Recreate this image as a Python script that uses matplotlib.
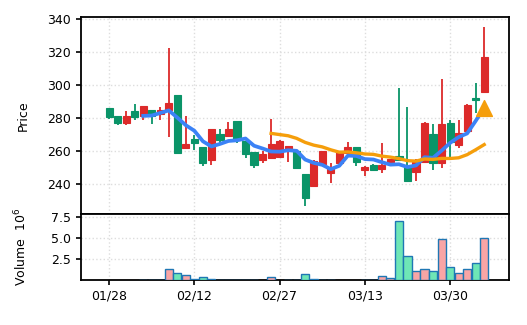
import numpy as np
import pandas as pd
import matplotlib
matplotlib.use('Agg')
import matplotlib.pyplot as plt

# Daily OHLC (price), one entry per trading day
opens = [285.8, 281.0, 277.1, 284.2, 281.0, 284.7, 282.4, 284.6, 293.9, 262.0,
         267.5, 262.1, 254.3, 270.0, 269.2, 277.9, 266.3, 259.5, 254.3, 255.4,
         256.2, 260.5, 260.0, 245.7, 238.4, 252.2, 246.5, 252.9, 259.0, 262.2,
         248.4, 251.5, 249.2, 253.0, 256.9, 249.9, 247.3, 253.0, 270.4, 252.4,
         276.7, 263.5, 272.0, 292.3, 295.9]
highs = [286.0, 281.0, 284.2, 288.4, 287.5, 284.7, 286.6, 322.6, 294.0, 281.2,
         269.6, 262.1, 273.5, 273.3, 277.5, 278.0, 266.3, 259.5, 260.0, 279.3,
         266.6, 263.0, 260.0, 245.7, 254.5, 260.0, 252.4, 260.0, 265.3, 262.2,
         250.5, 252.0, 264.8, 255.0, 298.2, 286.5, 255.2, 277.5, 276.3, 303.6,
         278.7, 278.7, 288.4, 301.4, 335.4]
lows = [279.5, 275.9, 275.9, 278.7, 278.7, 276.6, 279.0, 268.6, 258.8, 262.0,
        260.5, 250.8, 251.5, 264.6, 268.2, 264.9, 255.7, 249.8, 252.9, 255.4,
        256.0, 253.5, 249.4, 226.6, 238.4, 252.2, 240.2, 252.5, 259.0, 251.0,
        244.9, 248.0, 246.7, 253.0, 254.3, 241.8, 241.8, 252.8, 248.3, 249.7,
        256.4, 262.0, 271.5, 282.8, 295.0]
closes = [280.4, 277.1, 281.0, 280.7, 287.2, 281.4, 284.8, 288.9, 258.8, 264.0,
          264.6, 252.8, 273.2, 266.4, 273.1, 266.6, 258.3, 251.2, 258.0, 264.0,
          266.0, 262.7, 249.4, 231.4, 254.0, 260.0, 249.5, 259.7, 262.2, 253.3,
          250.3, 248.2, 251.5, 254.8, 254.5, 241.8, 253.0, 276.7, 252.8, 276.3,
          265.5, 270.6, 287.8, 290.9, 316.8]
# volume in millions (nan = no bar)
volumes = [np.nan, np.nan, np.nan, np.nan, 0.03, 0.03, 0.03, 1.32, 0.89, 0.61,
           0.15, 0.41, 0.12, 0.03, 0.03, 0.03, 0.03, 0.03, np.nan, 0.38,
           np.nan, 0.05, 0.05, 0.77, 0.1, 0.03, 0.03, np.nan, np.nan, np.nan,
           0.03, 0.05, 0.5, 0.26, 7.0, 2.86, 1.09, 1.32, 1.09, 4.87,
           1.56, 0.89, 1.32, 2.03, 4.99]

tick_pos = [0, 10, 20, 30, 40]
tick_labels = ['01/28', '02/12', '02/27', '03/13', '03/30']
signal_idx = [44]  # orange triangle marker

# Colours (red = up, green = down)
up_col, down_col = '#dc2a2a', '#0a9468'
vol_up, vol_down = '#f9a5a5', '#6ee6b6'
ma5_col, ma20_col = '#3b82f6', '#f59e0b'

x = np.arange(len(closes))
o = np.array(opens)
c = np.array(closes)
up = c >= o
cols = np.where(up, up_col, down_col)

ma5 = pd.Series(closes).rolling(5).mean()
ma20 = pd.Series(closes).rolling(20).mean()

fig = plt.figure(figsize=(5.27, 3.25), dpi=100)
ax = fig.add_axes([0.1537, 0.3415, 0.812, 0.6062])
axv = fig.add_axes([0.1537, 0.1385, 0.812, 0.2030], sharex=ax)

# Candles
ax.vlines(x, lows, highs, colors=cols, linewidth=1.3, zorder=2)
body_bottom = np.minimum(o, c)
body_h = np.maximum(np.abs(c - o), 0.6)
ax.bar(x, body_h, bottom=body_bottom, width=0.84, color=cols, edgecolor=cols,
       linewidth=0.8, zorder=3)

# Moving averages
ax.plot(x, ma5, color=ma5_col, linewidth=2.7, zorder=4)
ax.plot(x, ma20, color=ma20_col, linewidth=2.4, zorder=4)
ax.scatter(signal_idx, ma5.iloc[signal_idx], marker='^', s=130, color=ma20_col, zorder=5)

ax.set_ylim(221.6, 341.4)
ax.set_yticks([240, 260, 280, 300, 320, 340])
ax.set_xlim(-3.3, 46.9)
ax.set_ylabel('Price', fontsize=9)
ax.grid(True, linestyle=':', color='#dddddd', linewidth=1)
ax.tick_params(axis='x', which='both', bottom=False, labelbottom=False)

# Volume
vcols = np.where(up, vol_up, vol_down)
axv.bar(x, volumes, width=0.95, color=vcols, edgecolor='#1f77b4', linewidth=1.0, zorder=3)
axv.set_ylim(0, 7.86)
axv.set_yticks([2.5, 5.0, 7.5])
axv.set_ylabel('Volume  $10^6$', fontsize=9)
axv.set_xticks(tick_pos)
axv.set_xticklabels(tick_labels)
axv.grid(True, linestyle=':', color='#dddddd', linewidth=1)

for a in (ax, axv):
    a.set_axisbelow(True)
    for s in a.spines.values():
        s.set_linewidth(1.3)
    a.tick_params(labelsize=9, width=1.2, length=3.5)
    a.yaxis.set_label_coords(-0.12, 0.5)

fig.savefig('out.png', dpi=100)
